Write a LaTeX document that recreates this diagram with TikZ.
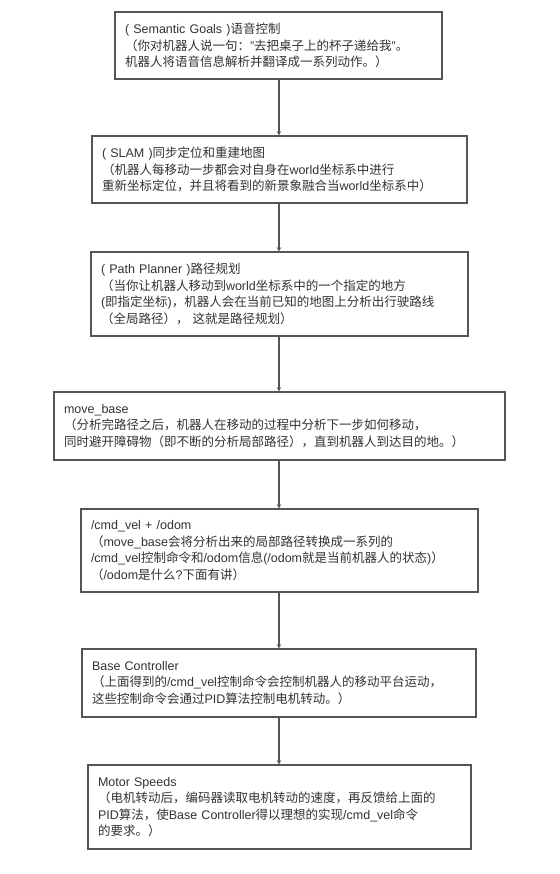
\documentclass[tikz,border=0pt]{standalone}
\usepackage{xcolor}
\usepackage{fontspec}
\usepackage{tikz}
\usetikzlibrary{arrows.meta,positioning}
\setmainfont{Liberation Sans}
\newfontfamily\cjk{Noto Sans CJK SC}
\newcommand{\zh}[1]{{\cjk #1}}
\definecolor{ink}{HTML}{333333}
\definecolor{edge}{HTML}{555555}
\tikzset{
  blk/.style={draw=edge, fill=white, line width=1.5pt, align=left, text=ink,
              font=\fontsize{12.5}{16.5}\selectfont, inner xsep=10pt, inner ysep=4pt},
  arr/.style={-{Stealth[length=4pt,width=4.5pt]}, line width=1.5pt, draw=edge},
}
\begin{document}
\begin{tikzpicture}[x=1pt, y=-1pt]
  \useasboundingbox (0,0) rectangle (559,874);
  % name, centre x, centre y, width, height, text
  \newcommand{\flowbox}[6]{%
    \node[blk, minimum width=#4pt, minimum height=#5pt, text width=#4pt-20pt] (#1) at (#2,#3) {#6};}
  \flowbox{goals}{278.5}{45.5}{327}{67}{( Semantic Goals )\zh{语音控制}\\
    \zh{（你对机器人说一句：}"\zh{去把桌子上的杯子递给我}"\zh{。}\\
    \zh{机器人将语音信息解析并翻译成一系列动作。）}}
  \flowbox{slam}{279.5}{169.5}{375}{67}{( SLAM )\zh{同步定位和重建地图}\\
    \zh{（机器人每移动一步都会对自身在}world\zh{坐标系中进行}\\
    \zh{重新坐标定位，并且将看到的新景象融合当}world\zh{坐标系中）}}
  \flowbox{planner}{279.5}{294}{377}{84}{( Path Planner )\zh{路径规划}\\
    \zh{（当你让机器人移动到}world\zh{坐标系中的一个指定的地方}\\
    (\zh{即指定坐标})\zh{，机器人会在当前已知的地图上分析出行驶路线}\\
    \zh{（全局路径），} \zh{这就是路径规划）}}
  \flowbox{movebase}{279.5}{426}{451}{68}{move\_base\\
    \zh{（分析完路径之后，机器人在移动的过程中分析下一步如何移动，}\\
    \zh{同时避开障碍物（即不断的分析局部路径），直到机器人到达目的地。）}}
  \flowbox{cmdvel}{279.5}{550.5}{397}{83}{/cmd\_vel + /odom\\
    \zh{（}move\_base\zh{会将分析出来的局部路径转换成一系列的}\\
    /cmd\_vel\zh{控制命令和}/odom\zh{信息}(/odom\zh{就是当前机器人的状态})\zh{）}\\
    \zh{（}/odom\zh{是什么}?\zh{下面有讲）}}
  \flowbox{basectl}{279}{683}{394}{68}{Base Controller\\
    \zh{（上面得到的}/cmd\_vel\zh{控制命令会控制机器人的移动平台运动，}\\
    \zh{这些控制命令会通过}PID\zh{算法控制电机转动。）}}
  \flowbox{motor}{279.5}{807}{383}{84}{Motor Speeds\\
    \zh{（电机转动后，编码器读取电机转动的速度，再反馈给上面的}\\
    PID\zh{算法，使}Base Controller\zh{得以理想的实现}/cmd\_vel\zh{命令}\\
    \zh{的要求。）}}
  \foreach \a/\b in {goals/slam, slam/planner, planner/movebase, movebase/cmdvel, cmdvel/basectl, basectl/motor}
    \draw[arr] (\a.south -| 279,0) -- (\b.north -| 279,0);
\end{tikzpicture}
\end{document}
